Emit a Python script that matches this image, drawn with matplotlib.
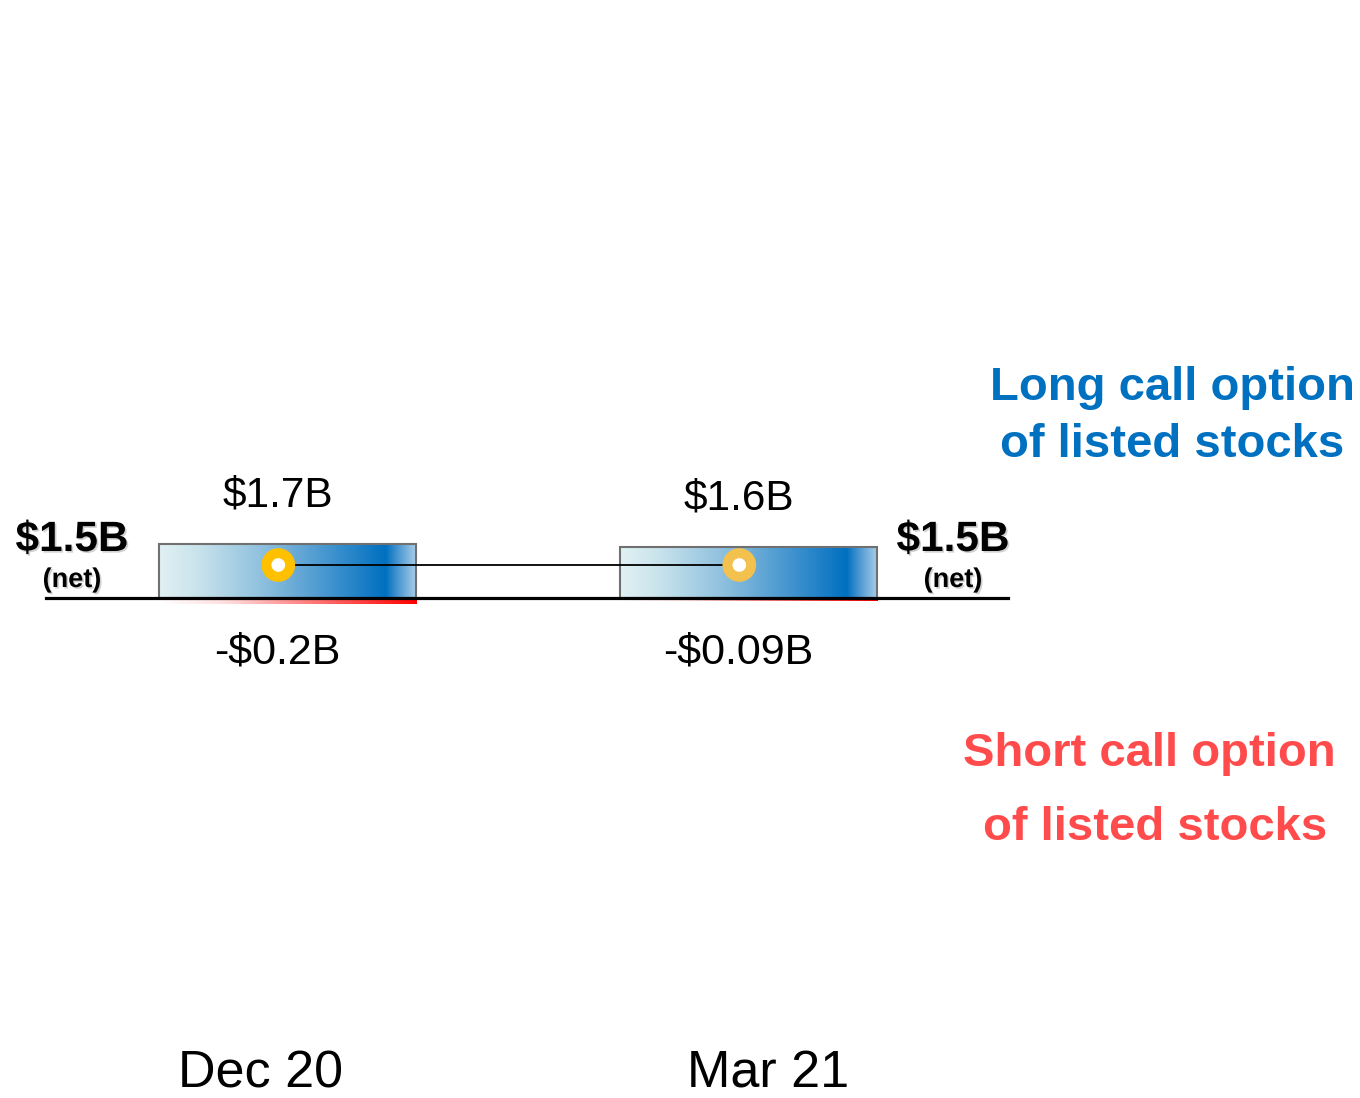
import numpy as np
import matplotlib
matplotlib.use("Agg")
import matplotlib.pyplot as plt
import matplotlib.patheffects as pe
from matplotlib.colors import LinearSegmentedColormap

# -----------------------------
# DATA
# -----------------------------
dates = ["Dec 20", "Mar 21"]
long_calls = [1.7, 1.6]        # $B
short_calls = [-0.2, -0.09]    # $B
net_values = [1.5, 1.5]        # $B
long_labels = ["$1.7B", "$1.6B"]
short_labels = ["-$0.2B", "-$0.09B"]
net_label = "$1.5B"

# -----------------------------
# SETUP
# -----------------------------
W, H = 1360, 1098
plt.rcParams["font.family"] = ["Liberation Sans", "DejaVu Sans"]
fig = plt.figure(figsize=(W / 100, H / 100), dpi=100)
ax = fig.add_axes([0, 0, 1, 1])
ax.axis("off")

BLUE = "#0070C0"
RED = "#FF4B4B"

blue_cmap = LinearSegmentedColormap.from_list(
    "bluegrad",
    [(0.0, "#E1F1F3"), (0.15, "#C9E3EC"), (0.4, "#8EC0DE"),
     (0.65, "#4696D0"), (0.88, "#0070C0"), (0.93, "#4D98D2"), (1.0, "#A9CFEA")])
red_cmap = LinearSegmentedColormap.from_list(
    "redgrad", [(0.0, "#FFFFFF"), (0.25, "#FFE0E0"), (1.0, "#FF0000")])
grad = np.linspace(0, 1, 256).reshape(1, -1)

x = np.arange(len(dates))
width = 0.5575


def px(xp, yp):
    return xp / W, 1 - yp / H


# -----------------------------
# BARS
# -----------------------------
long_bars = ax.bar(x, long_calls, width, color="none", edgecolor="#707070",
                   linewidth=1.5, zorder=4)
short_bars = ax.bar(x, short_calls, width, color="none", linewidth=0, zorder=3)

for bar in long_bars:
    im = ax.imshow(grad, cmap=blue_cmap, aspect="auto", zorder=2,
                   extent=[bar.get_x(), bar.get_x() + bar.get_width(),
                           bar.get_y(), bar.get_y() + bar.get_height()])
    im.set_clip_path(bar)

for bar in short_bars:
    im = ax.imshow(grad, cmap=red_cmap, aspect="auto", zorder=2,
                   extent=[bar.get_x(), bar.get_x() + bar.get_width(),
                           bar.get_y(), bar.get_y() + bar.get_height()])
    im.set_clip_path(bar)

# axis mapping: centre of cat 0 at 287.5px, 461px per category, baseline at 598px
ax.set_xlim(-287.5 / 461, (W - 287.5) / 461)
ax.set_ylim(-(H - 598) / 31.76, 598 / 31.76)

ax.axhline(0, xmin=46 / W, xmax=1008 / W, color="black", linewidth=2.3, zorder=5)

# value labels
for bar, lab in zip(long_bars, long_labels):
    ax.annotate(lab, (bar.get_x() + bar.get_width() / 2, bar.get_height()),
                xytext=(-10, 38), textcoords="offset pixels",
                ha="center", va="baseline", fontsize=30.5)
for bar, lab in zip(short_bars, short_labels):
    ax.annotate(lab, (bar.get_x() + bar.get_width() / 2, 0),
                xytext=(-10, -66), textcoords="offset pixels",
                ha="center", va="baseline", fontsize=31)

# -----------------------------
# NET LINE (secondary scale)
# -----------------------------
ax2 = ax.twinx()
ax2.axis("off")
ax2.set_xlim(ax.get_xlim())
ax2.set_ylim(0, 1.5 / ((H - 565) / H))
dot_x = x - 0.02
ax2.plot(dot_x, net_values, color="black", linewidth=1.3, zorder=3)
ax2.scatter(dot_x, net_values, s=290, facecolors="white",
            edgecolors=["#FFC000", "#F2C14E"], linewidths=7.2, zorder=4)

# net labels
shadow = [pe.withSimplePatchShadow(offset=(1.2, -1.2), shadow_rgbFace="#999999", alpha=0.45)]
for cx in (72, 953):
    fig.text(*px(cx, 551), net_label, ha="center", va="baseline", fontsize=30.5,
             fontweight="bold", path_effects=shadow)
    fig.text(*px(cx, 587), "(net)", ha="center", va="baseline", fontsize=19.5,
             fontweight="bold", path_effects=shadow)

# category labels
fig.text(*px(261, 1087), dates[0], ha="center", va="baseline", fontsize=37.5)
fig.text(*px(768, 1087), dates[1], ha="center", va="baseline", fontsize=37.5)

# side labels
fig.text(*px(1172, 400), "Long call option", ha="center", va="baseline",
         fontsize=34, fontweight="bold", color=BLUE)
fig.text(*px(1172, 457), "of listed stocks", ha="center", va="baseline",
         fontsize=34, fontweight="bold", color=BLUE)
fig.text(*px(1149, 766), "Short call option", ha="center", va="baseline",
         fontsize=34, fontweight="bold", color=RED)
fig.text(*px(1155, 840), "of listed stocks", ha="center", va="baseline",
         fontsize=34, fontweight="bold", color=RED)

fig.savefig("out.png", dpi=100)
